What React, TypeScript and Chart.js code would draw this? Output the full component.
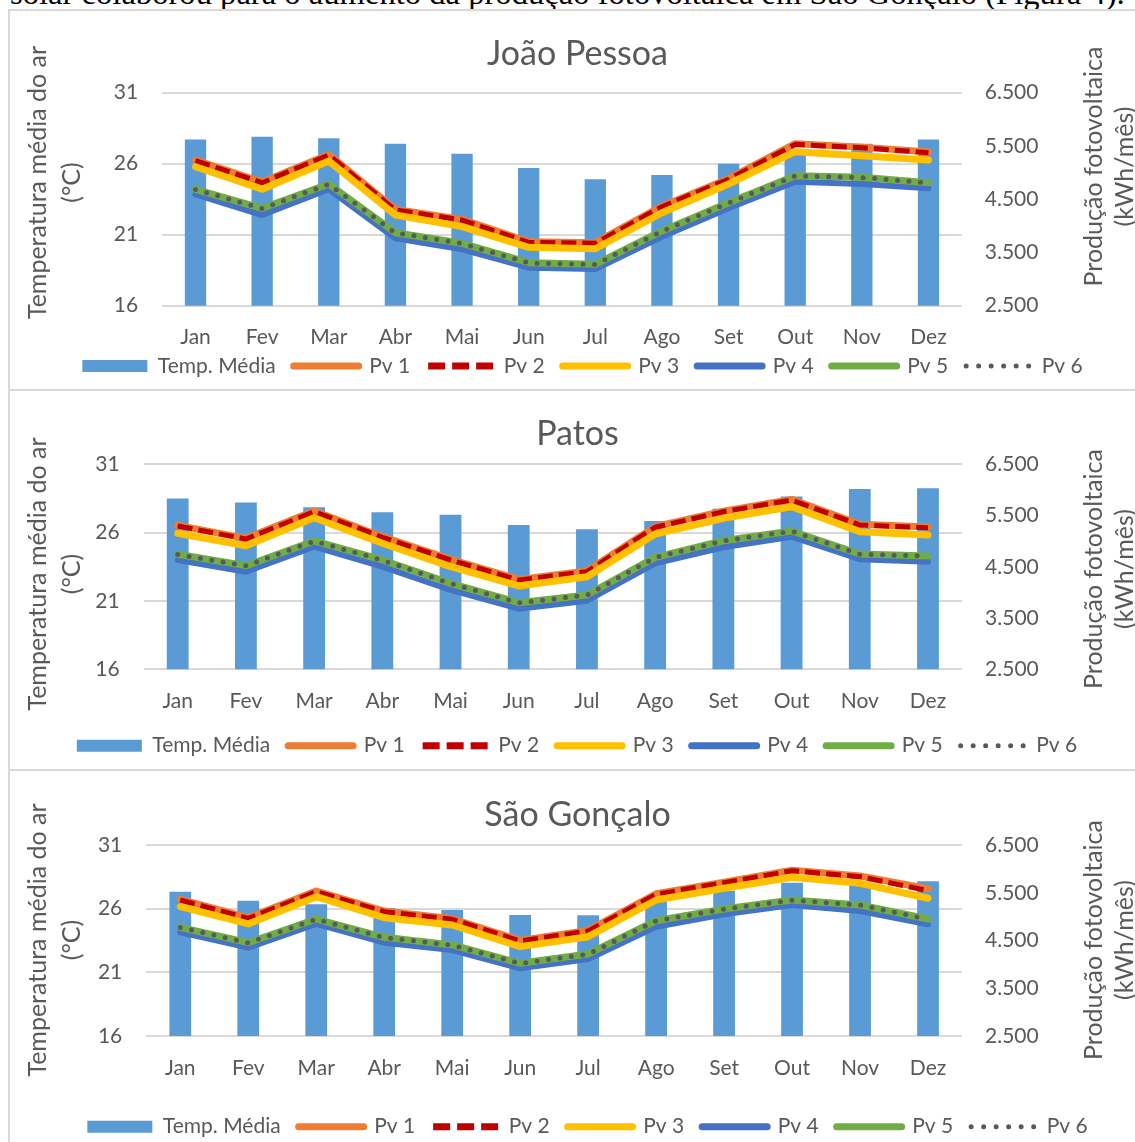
import React, { useEffect, useMemo, useRef } from 'react';
import { Chart, registerables } from 'chart.js';

Chart.register(...registerables);

// ---------------- data ----------------
const MONTHS = ['Jan', 'Fev', 'Mar', 'Abr', 'Mai', 'Jun', 'Jul', 'Ago', 'Set', 'Out', 'Nov', 'Dez'];
const SERIES_LABELS = ['Temp. Média', 'Pv 1', 'Pv 2', 'Pv 3', 'Pv 4', 'Pv 5', 'Pv 6'];
const CITY_TITLES = ['João Pessoa', 'Patos', 'São Gonçalo'];
const LEFT_TITLE = ['Temperatura média do ar', '(°C)'];
const RIGHT_TITLE = ['Produção fotovoltaica', '(kWh/mês)'];
const HEADER_TEXT = 'solar colaborou para o aumento da produção fotovoltaica em São Gonçalo (Figura 4).';

// João Pessoa
const JP_TEMP = [27.7, 27.9, 27.8, 27.4, 26.7, 25.7, 24.9, 25.2, 26.0, 26.9, 27.4, 27.7];
const JP_PV1 = [5235, 4822, 5342, 4308, 4120, 3700, 3684, 4370, 4886, 5542, 5478, 5386];
const JP_PV2 = [5223, 4810, 5330, 4297, 4109, 3690, 3672, 4359, 4874, 5530, 5467, 5373];
const JP_PV3 = [5110, 4686, 5217, 4203, 3984, 3597, 3570, 4246, 4785, 5392, 5317, 5236];
const JP_PV4 = [4592, 4203, 4686, 3765, 3559, 3214, 3189, 3796, 4329, 4829, 4785, 4704];
const JP_PV5 = [4686, 4329, 4785, 3871, 3672, 3307, 3277, 3903, 4434, 4941, 4911, 4810];
const JP_PV6 = [4682, 4325, 4781, 3867, 3668, 3303, 3273, 3899, 4430, 4937, 4907, 4806];

// Patos
const PT_TEMP = [28.5, 28.2, 27.85, 27.5, 27.3, 26.55, 26.25, 26.85, 27.75, 28.65, 29.2, 29.25];
const PT_PV1 = [5308, 5055, 5587, 5088, 4645, 4255, 4417, 5283, 5587, 5815, 5328, 5275];
const PT_PV2 = [5296, 5043, 5575, 5076, 4633, 4243, 4405, 5271, 5575, 5803, 5316, 5263];
const PT_PV3 = [5154, 4912, 5458, 4959, 4502, 4126, 4307, 5140, 5446, 5673, 5185, 5121];
const PT_PV4 = [4633, 4405, 4892, 4502, 4048, 3683, 3839, 4568, 4881, 5088, 4647, 4600];
const PT_PV5 = [4744, 4522, 5004, 4633, 4178, 3800, 3950, 4685, 5009, 5199, 4750, 4711];
const PT_PV6 = [4740, 4518, 5000, 4629, 4174, 3796, 3946, 4681, 5005, 5195, 4746, 4707];

// São Gonçalo
const SG_TEMP = [27.33, 26.63, 26.34, 26.05, 25.9, 25.5, 25.48, 26.8, 27.41, 28.04, 28.1, 28.15];
const SG_PV1 = [5360, 4977, 5534, 5116, 4956, 4502, 4711, 5479, 5723, 5974, 5850, 5585];
const SG_PV2 = [5348, 4965, 5522, 5104, 4944, 4490, 4699, 5467, 5711, 5962, 5837, 5544];
const SG_PV3 = [5208, 4846, 5417, 4978, 4825, 4371, 4580, 5348, 5593, 5824, 5698, 5384];
const SG_PV4 = [4672, 4350, 4846, 4454, 4301, 3918, 4113, 4789, 5049, 5244, 5118, 4839];
const SG_PV5 = [4776, 4454, 4950, 4567, 4406, 4023, 4218, 4915, 5160, 5348, 5244, 4950];
const SG_PV6 = [4772, 4450, 4946, 4563, 4402, 4019, 4214, 4911, 5156, 5344, 5240, 4946];

const TEMP_MIN = 16;
const TEMP_MAX = 31;
const TEMP_STEP = 5;
const PV_MIN = 2500;
const PV_MAX = 6500;
const PV_STEP = 1000;

// ---------------- styles ----------------
const FONT = 'Lato, "Open Sans", sans-serif';
const TEXT = '#595959';
const GRID = '#D9D9D9';
const FS = 21;
const AXIS_FS = 25;
const TITLE_FS = 34;
const LEG_PAD = 18;
const LEG_BOX_W = 65;
const CANVAS_LEFT = 10;
const CANVAS_W = 1160;
const CANVAS_H = 400;

const COLORS = ['#5B9BD5', '#ED7D31', '#C00000', '#FFC000', '#4472C4', '#70AD47', '#595959'];
const WIDTHS = [0, 7, 5, 7, 6, 7, 5];
const DASHES: number[][] = [[], [], [15, 6], [], [], [], [0, 11.5]];
const LEGEND_DASHES: number[][] = [[], [], [17, 7], [], [], [], [0, 12.5]];

type Spec = {
  title: string;
  canvasTop: number;
  titleY: number;
  plotTop: number;
  plotBottom: number;
  plotLeft: number;
  plotRight: number;
  xLabelY: number;
  legendY: number;
  legendCX: number;
  leftTitleY: number;
  rightTitleY: number;
  series: number[][];
};

const SPECS: Spec[] = [
  {
    title: CITY_TITLES[0], canvasTop: 11, titleY: 54, plotTop: 92.7, plotBottom: 305.7,
    plotLeft: 162.2, plotRight: 961.8, xLabelY: 337, legendY: 366, legendCX: 582.5,
    leftTitleY: 182.5, rightTitleY: 166.5,
    series: [JP_TEMP, JP_PV1, JP_PV2, JP_PV3, JP_PV4, JP_PV5, JP_PV6],
  },
  {
    title: CITY_TITLES[1], canvasTop: 391, titleY: 434, plotTop: 464.3, plotBottom: 669.3,
    plotLeft: 143.6, plotRight: 962.1, xLabelY: 701, legendY: 745.7, legendCX: 577,
    leftTitleY: 574, rightTitleY: 569,
    series: [PT_TEMP, PT_PV1, PT_PV2, PT_PV3, PT_PV4, PT_PV5, PT_PV6],
  },
  {
    title: CITY_TITLES[2], canvasTop: 771, titleY: 815, plotTop: 845, plotBottom: 1036,
    plotLeft: 146.3, plotRight: 962, xLabelY: 1068, legendY: 1126.7, legendCX: 587.5,
    leftTitleY: 940, rightTitleY: 940,
    series: [SG_TEMP, SG_PV1, SG_PV2, SG_PV3, SG_PV4, SG_PV5, SG_PV6],
  },
];

function fmtThousands(v: number): string {
  const n = Math.round(v);
  const th = Math.floor(n / 1000);
  const rest = String(n % 1000).padStart(3, '0');
  return th > 0 ? `${th}.${rest}` : String(n);
}

function vText(ctx: CanvasRenderingContext2D, text: string, x: number, y: number) {
  ctx.save();
  ctx.translate(x, y);
  ctx.rotate(-Math.PI / 2);
  ctx.textAlign = 'center';
  ctx.textBaseline = 'middle';
  ctx.fillText(text, 0, 0);
  ctx.restore();
}

function CityChart({ spec }: { spec: Spec }) {
  const ref = useRef<HTMLCanvasElement | null>(null);

  useEffect(() => {
    const canvas = ref.current;
    if (!canvas) return;
    const W = CANVAS_W;
    const H = CANVAS_H;
    const t = spec.canvasTop;
    const l = CANVAS_LEFT;
    const plotTop = spec.plotTop - t;
    const plotBottom = spec.plotBottom - t;
    const plotLeft = spec.plotLeft - l;
    const plotRight = spec.plotRight - l;
    const legendYc = spec.legendY - t;
    const legendCXc = spec.legendCX - l;
    const xTickPad = spec.xLabelY - t - plotBottom - (FS * 1.2) / 2;

    // initial guesses, calibrated after first layout
    const legendTop0 = legendYc - LEG_PAD - FS / 2;
    const dims = {
      padBottom: H - legendTop0 - (FS + 2 * LEG_PAD),
      padRight: W - 2 * legendCXc,
      xAxisH: legendTop0 - plotBottom,
      leftW: plotLeft,
      rightW: 0,
    };
    dims.rightW = W - dims.padRight - plotRight;

    const textPlugin = {
      id: 'cityTexts',
      beforeDraw(chart: any) {
        // let the month labels overflow the (short) x-axis box instead of being clipped
        const xs = chart.scales && chart.scales.x;
        if (xs) xs._computeLabelArea = () => undefined;
      },
      afterDraw(chart: any) {
        const ctx: CanvasRenderingContext2D = chart.ctx;
        ctx.save();
        ctx.fillStyle = TEXT;
        ctx.font = `${TITLE_FS}px ${FONT}`;
        ctx.textAlign = 'center';
        ctx.textBaseline = 'middle';
        ctx.fillText(spec.title, 577.5 - l, spec.titleY - t);
        ctx.font = `${AXIS_FS}px ${FONT}`;
        vText(ctx, LEFT_TITLE[0], 37.5 - l, spec.leftTitleY - t);
        vText(ctx, LEFT_TITLE[1], 72 - l, spec.leftTitleY - t);
        vText(ctx, RIGHT_TITLE[0], 1094 - l, spec.rightTitleY - t);
        vText(ctx, RIGHT_TITLE[1], 1125 - l, spec.rightTitleY - t);
        ctx.restore();
      },
    };

    const datasets: any[] = spec.series.map((data, i) => {
      if (i === 0) {
        return {
          type: 'bar',
          label: SERIES_LABELS[0],
          data,
          yAxisID: 'y',
          backgroundColor: COLORS[0],
          borderWidth: 0,
          barPercentage: 0.32,
          categoryPercentage: 1,
          order: 10,
        };
      }
      return {
        type: 'line',
        label: SERIES_LABELS[i],
        data,
        yAxisID: 'y1',
        borderColor: COLORS[i],
        backgroundColor: COLORS[i],
        borderWidth: WIDTHS[i],
        borderDash: DASHES[i],
        borderCapStyle: i === 2 ? 'butt' : 'round',
        borderJoinStyle: 'round',
        pointRadius: 0,
        pointHoverRadius: 0,
        tension: 0,
        fill: false,
        order: 7 - i,
      };
    });

    const chart: any = new Chart(canvas, {
      type: 'bar',
      data: { labels: MONTHS, datasets },
      options: {
        responsive: false,
        animation: false,
        devicePixelRatio: 1,
        layout: { padding: { top: plotTop, bottom: dims.padBottom, left: 0, right: dims.padRight } },
        plugins: {
          tooltip: { enabled: false },
          title: { display: false },
          legend: {
            display: true,
            position: 'bottom',
            labels: {
              usePointStyle: true,
              pointStyleWidth: LEG_BOX_W,
              boxHeight: 12,
              padding: LEG_PAD,
              color: TEXT,
              font: { family: FONT, size: FS },
              generateLabels: (ch: any) =>
                ch.data.datasets.map((ds: any, i: number) => ({
                  text: ds.label,
                  datasetIndex: i,
                  hidden: false,
                  fontColor: TEXT,
                  fillStyle: i === 0 ? COLORS[0] : 'rgba(0,0,0,0)',
                  strokeStyle: COLORS[i],
                  lineWidth: i === 0 ? 0 : i === 6 ? 5 : 7,
                  lineDash: LEGEND_DASHES[i],
                  lineCap: i === 2 ? 'butt' : 'round',
                  pointStyle: i === 0 ? 'rect' : 'line',
                })),
            },
          },
        },
        scales: {
          x: {
            grid: { display: false, drawTicks: false },
            border: { display: false },
            ticks: {
              padding: xTickPad,
              color: TEXT,
              font: { family: FONT, size: FS },
              autoSkip: false,
              maxRotation: 0,
            },
            afterFit: (s: any) => {
              s.height = dims.xAxisH;
            },
          },
          y: {
            position: 'left',
            min: TEMP_MIN,
            max: TEMP_MAX,
            ticks: { stepSize: TEMP_STEP, padding: 24, color: TEXT, font: { family: FONT, size: FS } },
            grid: { color: GRID, lineWidth: 2, drawTicks: false },
            border: { display: false },
            afterFit: (s: any) => {
              s.width = dims.leftW;
            },
          },
          y1: {
            position: 'right',
            min: PV_MIN,
            max: PV_MAX,
            ticks: {
              stepSize: PV_STEP,
              padding: 23,
              color: TEXT,
              font: { family: FONT, size: FS },
              callback: (v: any) => fmtThousands(Number(v)),
            },
            grid: { display: false, drawTicks: false },
            border: { display: false },
            afterFit: (s: any) => {
              s.width = dims.rightW;
            },
          },
        },
      } as any,
      plugins: [textPlugin],
    });

    // calibrate legend / plot placement from the real layout
    const lg = chart.legend;
    if (lg && lg.legendHitBoxes && lg.legendHitBoxes.length) {
      const boxes = lg.legendHitBoxes;
      const hb = boxes[0];
      const textOffset = hb.top + hb.height / 2 - lg.top;
      const desiredTop = legendYc - textOffset;
      dims.padBottom = H - desiredTop - lg.height;
      dims.xAxisH = desiredTop - plotBottom;
      const last = boxes[boxes.length - 1];
      const actualCX = (hb.left + last.left + last.width) / 2;
      dims.padRight = dims.padRight + 2 * (actualCX - legendCXc);
      dims.rightW = W - dims.padRight - plotRight;
      chart.options.layout.padding = { top: plotTop, bottom: dims.padBottom, left: 0, right: dims.padRight };
      chart.update();
    }
    return () => chart.destroy();
  }, [spec]);

  return (
    <canvas
      ref={ref}
      width={CANVAS_W}
      height={CANVAS_H}
      style={{ position: 'absolute', left: CANVAS_LEFT, top: spec.canvasTop, width: CANVAS_W, height: CANVAS_H }}
    />
  );
}

function Header() {
  const fs = useMemo(() => {
    const c = document.createElement('canvas').getContext('2d');
    if (!c) return 31;
    c.font = '100px "Liberation Serif"';
    const w = c.measureText(HEADER_TEXT).width;
    return (100 * 1115) / w;
  }, []);
  return (
    <div
      style={{
        position: 'absolute',
        left: 10,
        top: 4.5 - 0.8375 * fs,
        fontFamily: '"Liberation Serif", "Times New Roman", serif',
        fontSize: fs,
        lineHeight: 1,
        whiteSpace: 'nowrap',
        color: '#000',
      }}
    >
      {HEADER_TEXT}
    </div>
  );
}

const PANEL_TOPS = [9, 389, 769];
const PANEL_HEIGHTS = [380, 380, 420];

export default function App() {
  return (
    <div
      style={{
        position: 'fixed',
        left: 0,
        top: 0,
        width: 1135,
        height: 1142,
        overflow: 'hidden',
        background: '#fff',
      }}
    >
      <Header />
      {PANEL_TOPS.map((top, i) => (
        <div
          key={i}
          style={{
            position: 'absolute',
            left: 8,
            top,
            width: 1300,
            height: PANEL_HEIGHTS[i],
            boxSizing: 'border-box',
            borderTop: `2px solid ${GRID}`,
            borderLeft: `2px solid ${GRID}`,
          }}
        />
      ))}
      {SPECS.map((s, i) => (
        <CityChart key={i} spec={s} />
      ))}
    </div>
  );
}
